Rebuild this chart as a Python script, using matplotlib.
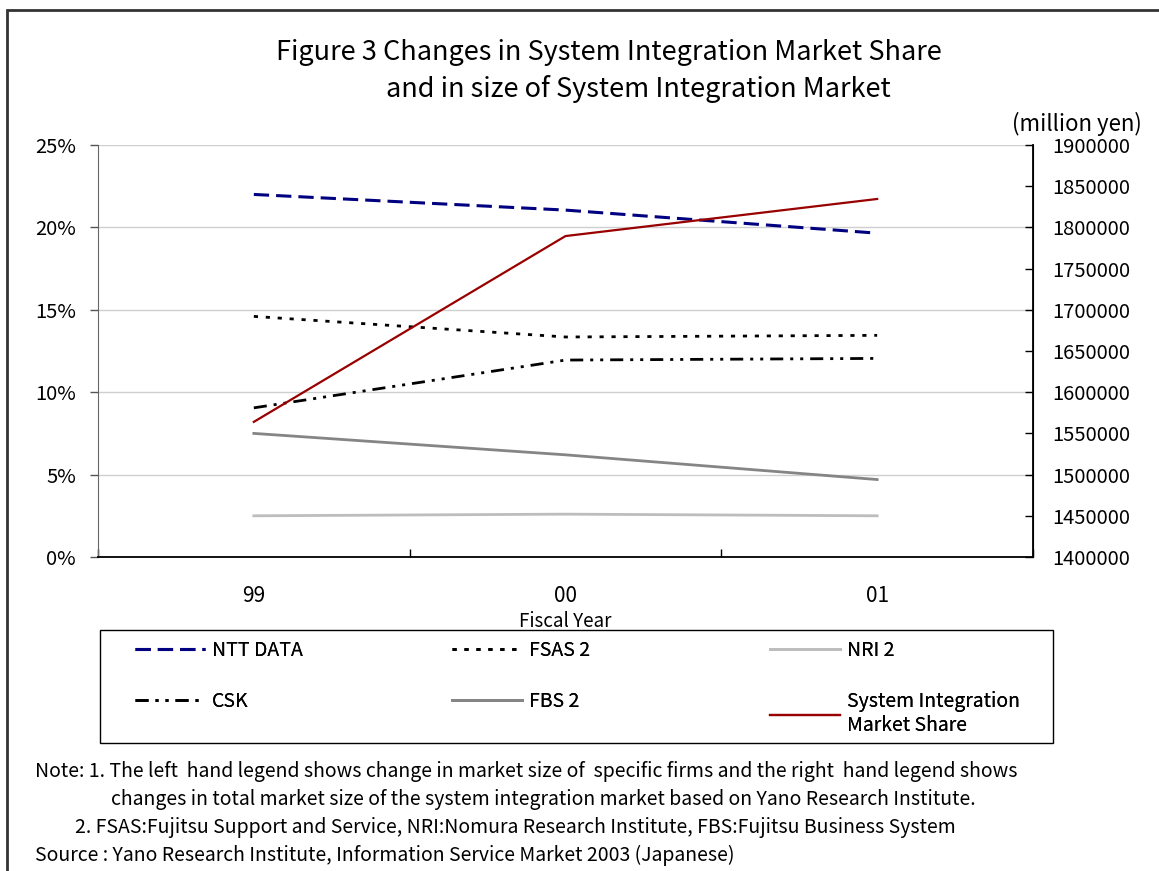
import matplotlib
matplotlib.use("Agg")
import matplotlib.pyplot as plt
from matplotlib.patches import Rectangle
from matplotlib.ticker import FixedLocator, FuncFormatter

plt.rcParams['font.family'] = ['Noto Sans CJK JP', 'DejaVu Sans']

# ---------------- data ----------------
years = ["99", "00", "01"]
ntt_data = [22.0, 21.05, 19.65]          # % (left axis)
fsas = [14.6, 13.35, 13.45]
nri = [2.5, 2.6, 2.5]
csk = [9.05, 11.95, 12.05]
fbs = [7.5, 6.2, 4.7]
si_market = [1564000, 1789500, 1834500]  # million yen (right axis)

left_ticks = [0, 5, 10, 15, 20, 25]
right_ticks = [1400000, 1450000, 1500000, 1550000, 1600000, 1650000,
               1700000, 1750000, 1800000, 1850000, 1900000]

W, H = 1159, 871
fig = plt.figure(figsize=(W / 100, H / 100), dpi=100)

def fx(px):
    return px / W

def fy(py):
    return 1 - py / H

ax = fig.add_axes([fx(98), fy(557), fx(1033) - fx(98), fy(145) - fy(557)])
ax2 = ax.twinx()

x = list(range(len(years)))

l_ntt, = ax.plot(x, ntt_data, color='#000080', lw=2.2, linestyle=(0, (5, 2.3)), label='NTT DATA')
l_fsas, = ax.plot(x, fsas, color='black', lw=2.0, linestyle=(0, (1.5, 2.8)), label='FSAS 2')
l_nri, = ax.plot(x, nri, color='#bdbdbd', lw=2.0, label='NRI 2')
l_csk, = ax.plot(x, csk, color='black', lw=2.0,
                 linestyle=(0, (4.7, 2.5, 1.1, 2.5, 1.1, 2.5)), label='CSK')
l_fbs, = ax.plot(x, fbs, color='#858585', lw=2.0, label='FBS 2')
l_si, = ax2.plot(x, si_market, color='#990000', lw=1.6, label='System Integration\nMarket Share')

ax.set_xlim(-0.5, len(years) - 0.5)
ax.set_ylim(0, 25)
ax2.set_ylim(1400000, 1900000)

# grid
ax.yaxis.set_major_locator(FixedLocator(left_ticks))
ax.yaxis.grid(True, color='#cfcfcf', lw=1)
ax.set_axisbelow(True)
ax.yaxis.set_major_formatter(FuncFormatter(lambda v, p: f"{int(v)}%"))
ax.tick_params(axis='y', direction='out', length=6, width=1, color='#555555',
               labelsize=14.5, pad=10)

ax2.yaxis.set_major_locator(FixedLocator(right_ticks))
ax2.yaxis.set_major_formatter(FuncFormatter(lambda v, p: f"{int(v)}"))
ax2.tick_params(axis='y', direction='in', length=6, width=1, color='black',
                labelsize=14.5, pad=13.5)

# x axis: ticks at category boundaries, labels at centers
ax.set_xticks([i - 0.5 for i in range(len(years) + 1)])
ax.set_xticklabels([])
ax.set_xticks(x, minor=True)
ax.set_xticklabels(years, minor=True)
ax.tick_params(axis='x', which='major', direction='in', length=6, width=1, color='black')
ax.tick_params(axis='x', which='minor', length=0, labelsize=15, pad=20)
ax.set_xlabel("Fiscal Year", fontsize=13.5, labelpad=3)

for a in (ax, ax2):
    a.spines['top'].set_visible(False)
ax.spines['left'].set_color('#666666')
ax.spines['bottom'].set_color('black')
ax.spines['bottom'].set_linewidth(1.3)
ax2.spines['right'].set_color('black')
ax2.spines['right'].set_linewidth(1.3)
ax2.spines['left'].set_visible(False)
ax2.spines['bottom'].set_visible(False)

# title
fig.text(fx(609), fy(52), "Figure 3 Changes in System Integration Market Share",
         ha='center', va='center', fontsize=19.5)
fig.text(fx(638), fy(89), "and in size of System Integration Market",
         ha='center', va='center', fontsize=19.5)
fig.text(fx(1142), fy(124), "(million yen)", ha='right', va='center', fontsize=16)

# legend (frame drawn as separate box, one legend per column)
fig.patches.append(Rectangle((fx(100), fy(743)), fx(1053) - fx(100), fy(630) - fy(743),
                             transform=fig.transFigure, fill=False, edgecolor='black', lw=1.0))
legend_columns = [(135, [l_ntt, l_csk]), (452, [l_fsas, l_fbs]), (770, [l_nri, l_si])]
for colx, hs in legend_columns:
    leg = fig.legend(hs, [h.get_label() for h in hs],
                     loc='upper left', bbox_to_anchor=(fx(colx), fy(640)),
                     fontsize=14, handlelength=3.6, handletextpad=0.35,
                     labelspacing=1.55, borderpad=0,
                     frameon=False, borderaxespad=0)
    fig.add_artist(leg)

# notes
notes = [
    (35, 771, "Note: 1. The left  hand legend shows change in market size of  specific firms and the right  hand legend shows"),
    (111, 799, "changes in total market size of the system integration market based on Yano Research Institute."),
    (75, 827, "2. FSAS:Fujitsu Support and Service, NRI:Nomura Research Institute, FBS:Fujitsu Business System"),
    (35, 855, "Source : Yano Research Institute, Information Service Market 2003 (Japanese)"),
]
for px, py, t in notes:
    fig.text(fx(px), fy(py), t, ha='left', va='center', fontsize=14)

# outer frame
fig.patches.append(Rectangle((fx(7), -0.1), 1.2, fy(10) + 0.1, transform=fig.transFigure,
                             fill=False, edgecolor='#333333', lw=2))

fig.savefig("out.png", dpi=100)
